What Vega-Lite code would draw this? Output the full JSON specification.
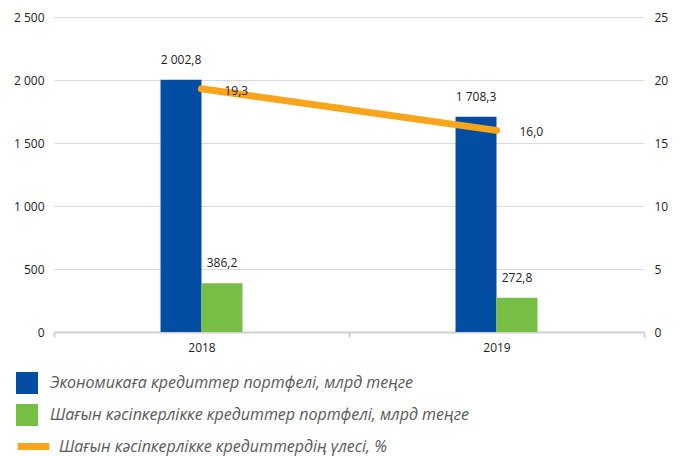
{
  "$schema": "https://vega.github.io/schema/vega-lite/v6.json",
  "width": 590,
  "height": 315,
  "autosize": {"type": "none"},
  "padding": {"left": 54, "top": 17, "right": 35, "bottom": 125},
  "background": "white",
  "datasets": {
    "bars": [
      {"year": "2018", "series": "Экономикаға кредиттер портфелі, млрд теңге", "value": 2002.8},
      {"year": "2018", "series": "Шағын кәсіпкерлікке кредиттер портфелі, млрд теңге", "value": 386.2},
      {"year": "2019", "series": "Экономикаға кредиттер портфелі, млрд теңге", "value": 1708.3},
      {"year": "2019", "series": "Шағын кәсіпкерлікке кредиттер портфелі, млрд теңге", "value": 272.8}
    ],
    "share": [
      {"year": "2018", "name": "Шағын кәсіпкерлікке кредиттердің үлесі, %", "pct": 19.3},
      {"year": "2019", "name": "Шағын кәсіпкерлікке кредиттердің үлесі, %", "pct": 16.0}
    ]
  },
  "encoding": {
    "x": {
      "field": "year",
      "type": "nominal",
      "scale": {"paddingInner": 0, "paddingOuter": 0},
      "axis": {
        "title": null,
        "labelAngle": 0,
        "domain": true,
        "domainColor": "#d0d0d0",
        "domainWidth": 2,
        "ticks": true,
        "tickColor": "#d0d0d0",
        "tickWidth": 2,
        "tickSize": 5,
        "tickBand": "extent",
        "grid": false,
        "labelPadding": 5,
        "labelFont": "Open Sans",
        "labelFontSize": 12,
        "labelColor": "#222"
      }
    }
  },
  "layer": [
    {
      "data": {"name": "bars"},
      "encoding": {
        "xOffset": {
          "field": "series",
          "type": "nominal",
          "scale": {"paddingOuter": 0.6, "paddingInner": 0, "domain": ["_a", "_b", "Экономикаға кредиттер портфелі, млрд теңге", "Шағын кәсіпкерлікке кредиттер портфелі, млрд теңге", "_c", "_d"]}
        },
        "y": {
          "field": "value",
          "type": "quantitative",
          "scale": {"domain": [0, 2500], "nice": false},
          "axis": {
            "title": null,
            "values": [0, 500, 1000, 1500, 2000, 2500],
            "format": ",d",
            "domain": false,
            "ticks": false,
            "grid": true,
            "gridColor": "#d9d9d9",
            "gridWidth": 1,
            "labelPadding": 10,
            "labelFont": "Open Sans",
            "labelFontSize": 12,
            "labelColor": "#222"
          }
        }
      },
      "layer": [
        {
          "mark": {"type": "bar"},
          "encoding": {
            "color": {
              "field": "series",
              "type": "nominal",
              "scale": {
                "domain": ["Экономикаға кредиттер портфелі, млрд теңге", "Шағын кәсіпкерлікке кредиттер портфелі, млрд теңге"],
                "range": ["#034ea2", "#76bf44"]
              },
              "legend": {
                "orient": "none",
                "legendX": -38,
                "legendY": 355,
                "title": null,
                "padding": 0,
                "symbolType": "square",
                "symbolSize": 484,
                "symbolStrokeWidth": 0,
                "symbolOpacity": 1,
                "rowPadding": 10,
                "labelOffset": 12,
                "labelLimit": 600,
                "labelFont": "Open Sans",
                "labelFontSize": 16,
                "labelFontStyle": "italic",
                "labelColor": "#595959"
              }
            }
          }
        },
        {
          "mark": {"type": "text", "baseline": "middle", "dy": -20, "font": "Open Sans", "fontSize": 12, "color": "#222"},
          "encoding": {
            "text": {"field": "value", "type": "quantitative", "format": ",.1f"}
          }
        }
      ]
    },
    {
      "data": {"name": "share"},
      "encoding": {
        "y": {
          "field": "pct",
          "type": "quantitative",
          "scale": {"domain": [0, 25], "nice": false},
          "axis": {
            "orient": "right",
            "title": null,
            "values": [0, 5, 10, 15, 20, 25],
            "domain": false,
            "ticks": false,
            "grid": false,
            "labelPadding": 10,
            "labelFont": "Open Sans",
            "labelFontSize": 12,
            "labelColor": "#222"
          }
        }
      },
      "layer": [
        {
          "mark": {"type": "line", "strokeWidth": 7, "strokeCap": "round"},
          "encoding": {
            "stroke": {
              "field": "name",
              "type": "nominal",
              "scale": {"range": ["#f8a51b"]},
              "legend": {
                "orient": "none",
                "legendX": -40,
                "legendY": 410,
                "title": null,
                "padding": 0,
                "symbolType": "stroke",
                "symbolSize": 1000,
                "symbolStrokeWidth": 7,
                "labelOffset": 6,
                "labelLimit": 600,
                "labelFont": "Open Sans",
                "labelFontSize": 16,
                "labelFontStyle": "italic",
                "labelColor": "#595959"
              }
            }
          }
        },
        {
          "mark": {"type": "text", "align": "left", "baseline": "middle", "dx": 23, "dy": 2, "font": "Open Sans", "fontSize": 12, "color": "#222"},
          "encoding": {
            "text": {"field": "pct", "type": "quantitative", "format": ".1f"}
          }
        }
      ]
    }
  ],
  "resolve": {"scale": {"y": "independent"}},
  "config": {
    "view": {"stroke": null},
    "locale": {
      "number": {"decimal": ",", "thousands": " ", "grouping": [3], "currency": ["", ""]}
    }
  }
}
